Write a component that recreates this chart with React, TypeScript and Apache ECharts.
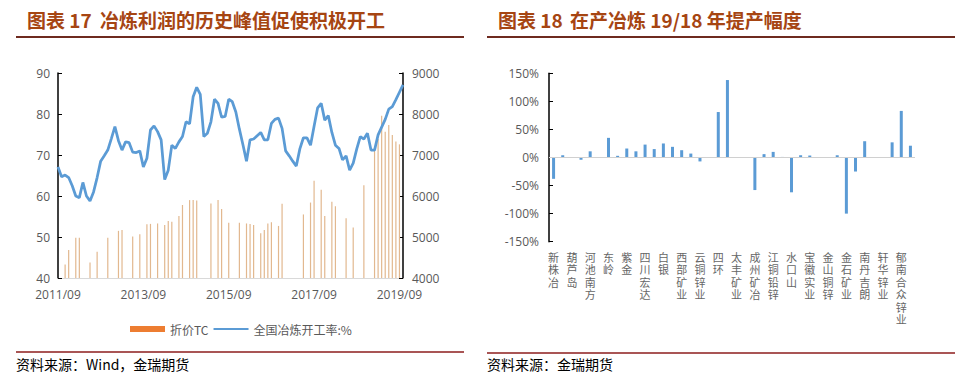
import React, { useEffect, useRef } from "react";
import * as echarts from "echarts";

// ---------- Left chart: 冶炼开工率 vs 折价TC ----------
const startYear = 2011;
const startMonth = 9;
const monthCount = 98;
const months: string[] = [];
for (let i = 0; i < monthCount; i++) {
  const t = startMonth - 1 + i;
  const y = startYear + Math.floor(t / 12);
  const m = (t % 12) + 1;
  months.push(`${y}/${m < 10 ? "0" + m : m}`);
}

// 全国冶炼开工率:% (left axis)
const operatingRate: number[] = [
  67.1, 64.7, 65.1, 64.5, 62.5, 60.0, 59.6, 63.3, 60.0, 58.8,
  61.0, 64.5, 68.5, 69.8, 71.2, 74.0, 76.9, 73.5, 71.2, 73.2,
  73.0, 70.7, 70.6, 71.0, 67.1, 69.2, 76.1, 77.1, 75.7, 73.7,
  64.0, 66.3, 72.4, 71.6, 73.2, 74.5, 78.1, 77.6, 84.2, 86.5,
  84.8, 74.5, 75.3, 78.1, 83.6, 82.6, 79.2, 79.4, 83.6, 83.0,
  80.5, 76.3, 72.5, 68.5, 73.7, 73.9, 74.7, 75.5, 73.7, 73.7,
  77.7, 78.7, 79.0, 76.5, 71.0, 69.8, 68.5, 67.3, 71.5, 74.2,
  74.2, 72.4, 77.0, 81.5, 82.6, 78.5, 79.6, 75.5, 72.4, 71.6,
  68.8, 69.8, 66.3, 68.0, 71.5, 74.5, 73.9, 75.3, 71.2, 71.2,
  74.9, 76.8, 78.7, 81.2, 81.8, 83.5, 85.3, 87.1,
];

// 折价TC (right axis), null where no observation
const tcValues: (number | null)[] = [
  null, null, 4330, 4680, null, 4980, 4980, null, null, 4380,
  null, 4640, null, null, 4980, null, null, 5150, 5170, null,
  null, 5010, null, 5070, null, 5310, 5320, null, 5330, null,
  5290, 5390, 5370, null, 5510, 5780, null, 5900, 5900, 5890,
  null, null, null, 5820, null, 5900, 5680, null, 5350, null,
  null, 5350, null, 5330, 5320, 5290, null, 5090, 5170, 5330,
  5360, null, 5270, 5810, null, null, null, null, null, 5550,
  null, 5840, 6370, null, 6150, 5510, null, 5860, 5750, null,
  null, 5460, null, 5230, null, null, 6260, null, null, 7180,
  7390, 7960, 7570, 7730, 7490, 7330, 7260, null,
];

// ---------- Right chart: 19/18 年提产幅度 ----------
// '' = category whose name is not shown in the source picture
const smelters: string[] = [
  "新株冶", "", "葫芦岛", "", "河池南方", "", "东岭", "", "紫金", "",
  "四川宏达", "", "白银", "", "西部矿业", "", "云铜锌业", "", "四环", "",
  "太丰矿业", "", "成州矿冶", "", "江铜铅锌", "", "水口山", "", "宝徽实业", "",
  "金山铜锌", "", "金石矿业", "", "南丹吉朗", "", "轩华锌业", "", "郁南合众锌业", "",
];
const growthPct: number[] = [
  -38, 4, 0, -4, 11, 0, 35, 3, 16, 11,
  23, 15, 25, 19, 13, 7, -7, 0, 81, 138,
  0, 0, -58, 6, 10, 1, -62, 4, 3.5, 0,
  0, 4, -100, -25, 29, 0, 0, 27, 83, 21,
];

const leftTicks = { min: 40, max: 90, interval: 10 };
const rightTicks = { min: 4000, max: 9000, interval: 1000 };
const pctTicks = { min: -150, max: 150, interval: 50 };

const titleColor = "#a64512";
const gray = "#595959";
const numFont = "Open Sans";
const cjkFont = "Noto Sans CJK SC";

export default function App() {
  const ref = useRef<HTMLDivElement>(null);
  useEffect(() => {
    document.body.style.margin = "0";
    if (!ref.current) return;
    const chart = echarts.init(ref.current, null, { renderer: "svg" });
    const axisLineBlack = { show: true, lineStyle: { color: "#000", width: 1.5 } };
    const option: any = {
      animation: false,
      backgroundColor: "#fff",
      textStyle: { fontFamily: cjkFont },
      grid: [
        { left: 58, right: 559, top: 73, bottom: 98 },
        { left: 549, right: 47, top: 73.3, bottom: 134.3 },
      ],
      legend: {
        left: 125,
        top: 318,
        itemWidth: 35,
        itemHeight: 6,
        itemGap: 5,
        symbolKeepAspect: true,
        textStyle: { color: gray, fontSize: 12, fontFamily: cjkFont },
        data: [
          { name: "折价TC", icon: "rect", itemStyle: { color: "#ed7d31" } },
          { name: "全国冶炼开工率:%", icon: "path://M0,0L35,0L35,2L0,2Z", itemStyle: { color: "#5b9bd5" } },
        ],
      },
      xAxis: [
        {
          type: "category",
          gridIndex: 0,
          data: months,
          boundaryGap: false,
          axisLine: { show: true, lineStyle: { color: "#d9d9d9", width: 1 } },
          axisTick: { show: false },
          axisLabel: { interval: 23, color: gray, fontSize: 12, fontFamily: numFont, margin: 10 },
          splitLine: { show: false },
        },
        {
          type: "category",
          gridIndex: 1,
          data: smelters,
          axisLine: { show: false },
          axisTick: { show: false },
          axisLabel: {
            interval: 0,
            color: "#666",
            fontSize: 11,
            lineHeight: 12.5,
            fontFamily: "'Liberation Sans', 'Noto Sans CJK SC'",
            margin: 10,
            verticalAlign: "top",
            formatter: (v: string) => v.split("").join("\n"),
          },
        },
      ],
      yAxis: [
        {
          type: "value",
          gridIndex: 0,
          position: "left",
          ...leftTicks,
          axisLine: axisLineBlack,
          axisTick: { show: true, inside: true, length: 4, lineStyle: { color: "#000" } },
          axisLabel: { color: gray, fontSize: 12, fontFamily: numFont, margin: 8 },
          splitLine: { show: false },
        },
        {
          type: "value",
          gridIndex: 0,
          position: "right",
          ...rightTicks,
          axisLine: axisLineBlack,
          axisTick: { show: true, inside: true, length: 4, lineStyle: { color: "#000" } },
          axisLabel: { color: gray, fontSize: 12, fontFamily: numFont, margin: 9, formatter: (v: number) => String(v) },
          splitLine: { show: false },
        },
        {
          type: "value",
          gridIndex: 1,
          ...pctTicks,
          axisLine: axisLineBlack,
          axisTick: { show: true, inside: true, length: 4, lineStyle: { color: "#000" } },
          axisLabel: { color: gray, fontSize: 12, fontFamily: numFont, margin: 10, formatter: "{value}%" },
          splitLine: { show: false },
        },
      ],
      series: [
        {
          name: "折价TC",
          type: "bar",
          xAxisIndex: 0,
          yAxisIndex: 1,
          data: tcValues,
          barWidth: 1.2,
          itemStyle: { color: "#e2b88f" },
          clip: true,
        },
        {
          name: "全国冶炼开工率:%",
          type: "line",
          xAxisIndex: 0,
          yAxisIndex: 0,
          data: operatingRate,
          symbol: "none",
          lineStyle: { color: "#5b9bd5", width: 2.75 },
          itemStyle: { color: "#5b9bd5" },
        },
        {
          name: "提产幅度",
          type: "bar",
          xAxisIndex: 1,
          yAxisIndex: 2,
          data: growthPct,
          barWidth: 3,
          itemStyle: { color: "#5b9bd5" },
          markLine: {
            silent: true,
            symbol: ["none", "none"],
            label: { show: false },
            lineStyle: { color: "#d0d0d0", type: "solid", width: 1 },
            data: [{ yAxis: 0 }],
          },
        },
      ],
      graphic: [
        { type: "text", left: 27, top: 10, style: { text: "图表 17", fontSize: 19, fontWeight: "bold", fill: titleColor, fontFamily: cjkFont } },
        { type: "text", left: 100, top: 10, style: { text: "冶炼利润的历史峰值促使积极开工", fontSize: 19, fontWeight: "bold", fill: titleColor, fontFamily: cjkFont } },
        { type: "text", left: 498, top: 10, style: { text: "图表 18", fontSize: 19, fontWeight: "bold", fill: titleColor, fontFamily: cjkFont } },
        { type: "text", left: 570, top: 10, style: { text: "在产冶炼 19/18 年提产幅度", fontSize: 19, fontWeight: "bold", fill: titleColor, fontFamily: cjkFont } },
        { type: "line", shape: { x1: 16, y1: 37, x2: 464, y2: 37 }, style: { stroke: "#6e2a1f", lineWidth: 2 } },
        { type: "line", shape: { x1: 487, y1: 37, x2: 955, y2: 37 }, style: { stroke: "#6e2a1f", lineWidth: 2 } },
        { type: "line", shape: { x1: 16, y1: 352, x2: 464, y2: 352 }, style: { stroke: "#8c1c1c", lineWidth: 1.5 } },
        { type: "line", shape: { x1: 487, y1: 353, x2: 955, y2: 353 }, style: { stroke: "#8c1c1c", lineWidth: 1.5 } },
        { type: "text", left: 16, top: 357, style: { text: "资料来源：Wind，金瑞期货", fontSize: 14, fill: "#000", fontFamily: cjkFont } },
        { type: "text", left: 487, top: 357, style: { text: "资料来源：金瑞期货", fontSize: 14, fill: "#000", fontFamily: cjkFont } },
      ],
    };
    chart.setOption(option);
    return () => chart.dispose();
  }, []);
  return <div ref={ref} style={{ width: 962, height: 376 }} />;
}
